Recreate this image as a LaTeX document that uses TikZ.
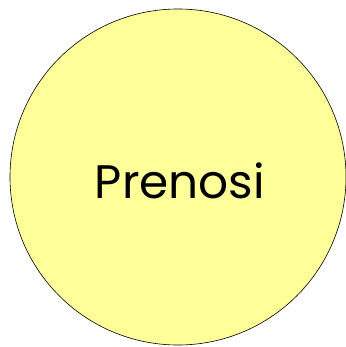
\documentclass[tikz,border=0pt]{standalone}
\usepackage{fontspec}
\setmainfont{Poppins}
\usepackage{xcolor}
\usetikzlibrary{positioning}

\begin{document}
\begin{tikzpicture}[
    x=1pt, y=1pt,
    bubble/.style={draw=black, circle, line width=0.6pt, fill=cbubble,
                   minimum size=336pt, inner sep=0pt},
    lbl/.style={font=\fontsize{47}{52}\selectfont, inner sep=0pt},
]
% ---- Colours ----
\definecolor{cbubble}{HTML}{FFFF99} % pale yellow disc
% ---- Page frame ----
\useasboundingbox (0, 0) rectangle (345, -347);
% ---- Disc and its word ----
\node[bubble] (P) at (178, -177) {};
\node[lbl]    (T) at (180, -181)   {Prenosi};
\end{tikzpicture}
\end{document}
